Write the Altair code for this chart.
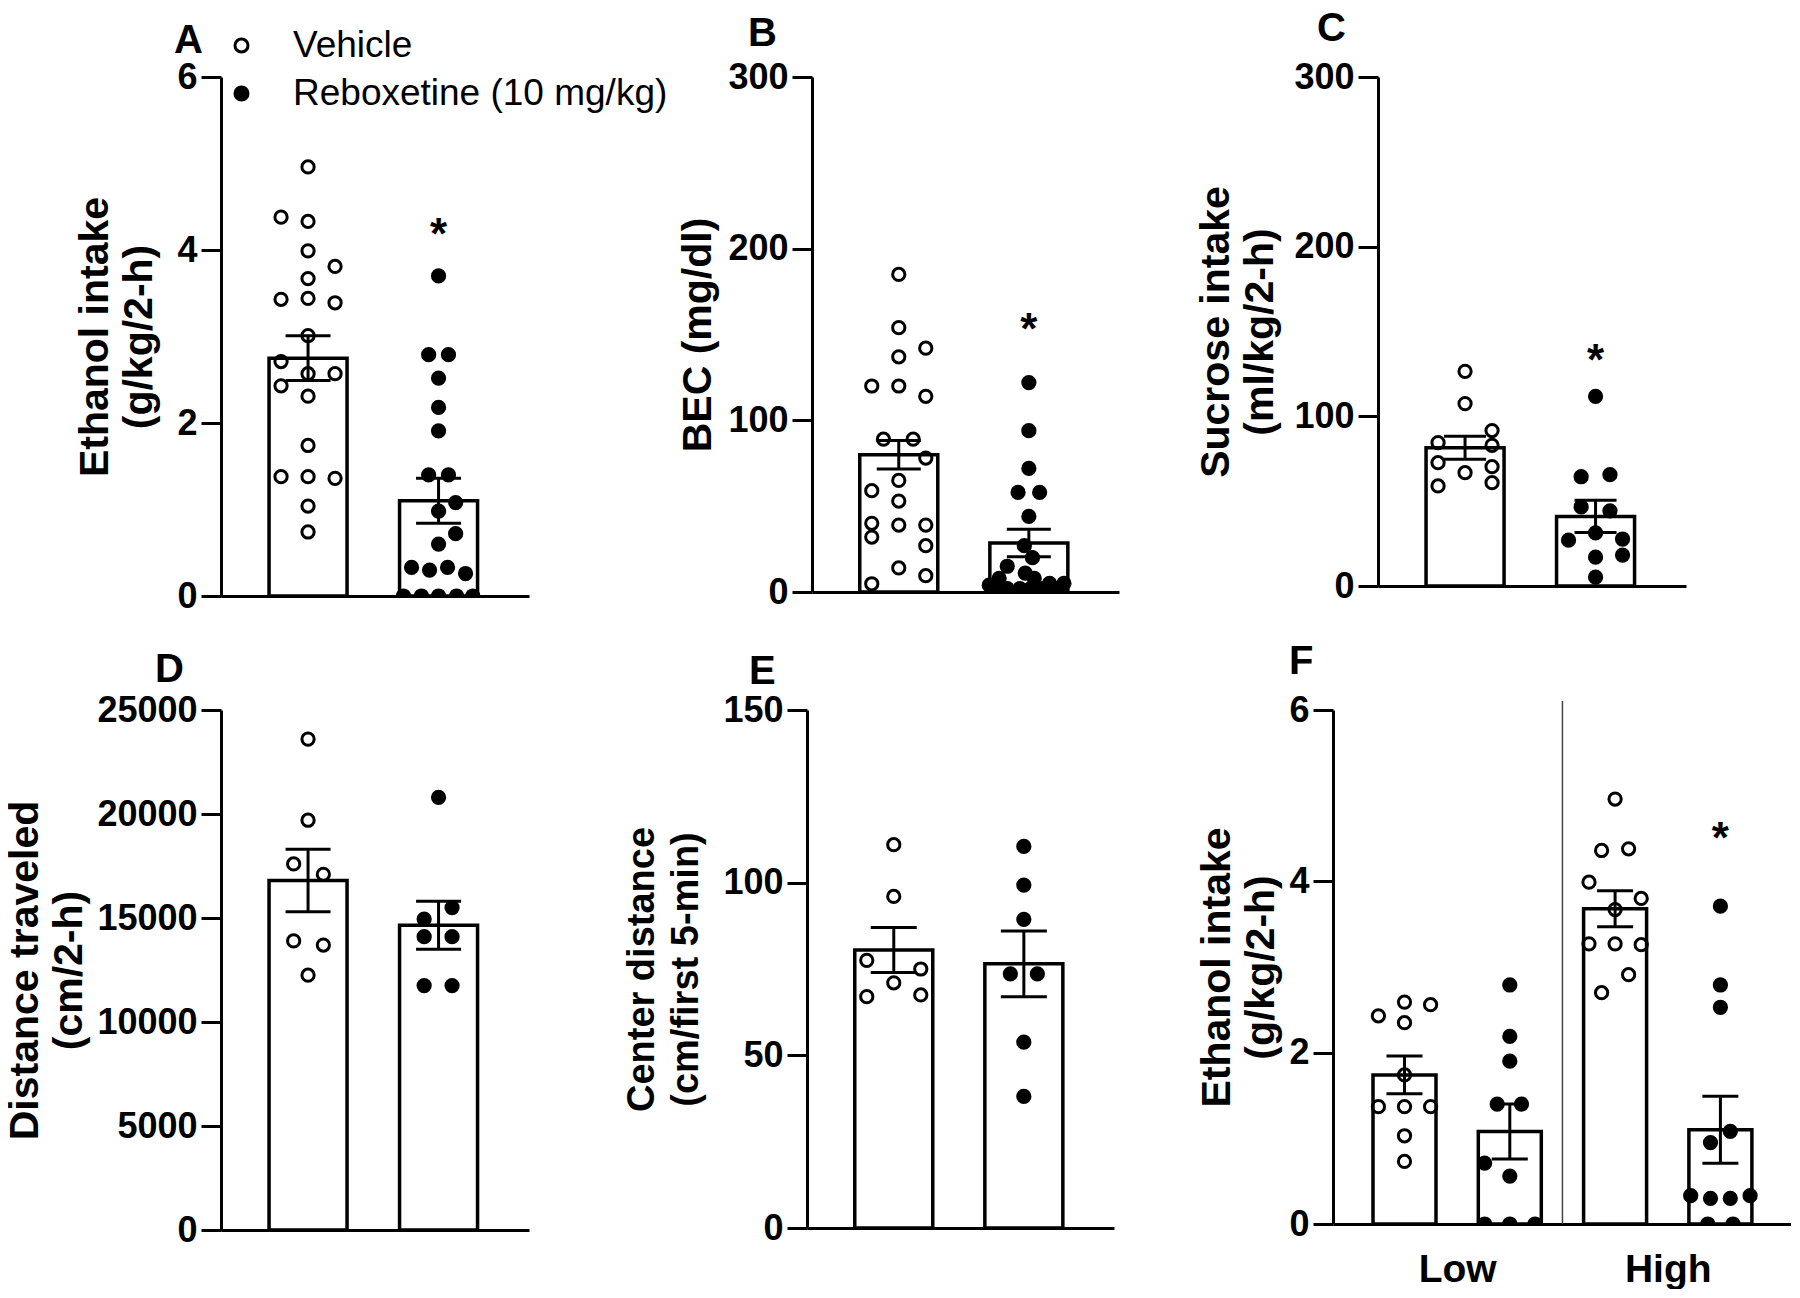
import altair as alt
import pandas as pd

FONT = "Liberation Sans"
GROUPS = ["Vehicle", "Reboxetine (10 mg/kg)"]
PANEL_LETTERS = ["A", "B", "C", "D", "E", "F"]
DOSE_LABELS = ["Low", "High"]
STAR = "*"

# ---------------- Panel A: ethanol intake ----------------
a_title = ["Ethanol intake", "(g/kg/2-h)"]
a_ticks = [0, 2, 4, 6]
a_veh = [4.96, 4.38, 4.33, 3.99, 3.81, 3.67, 3.43, 3.44, 3.39, 3.01, 2.71, 2.57, 2.57, 2.43, 2.31, 1.74, 1.38, 1.38, 1.36, 1.04, 0.74]
a_veh_slot = [0, -3, 0, 0, 3, 0, -3, 0, 3, 0, -3, 0, 3, -3, 0, 0, -3, 0, 3, 0, 0]
a_reb = [3.70, 2.79, 2.79, 2.52, 2.18, 1.91, 1.40, 1.40, 1.08, 0.98, 0.72, 0.60, 0.33, 0.30, 0.33, 0.26, 0, 0, 0, 0, 0]
a_reb_slot = [0, -1.1, 1.1, 0, 0, 0, -1.1, 1.1, 1.9, 0, 1.9, 0, -3, -1, 1, 3, -3.9, -1.9, 0, 2, 3.8]
a_mean = [2.75, 1.10]
a_sem = [0.26, 0.26]
a_star = [None, 4.2]

# ---------------- Panel B: BEC ----------------
b_title = "BEC (mg/dl)"
b_ticks = [0, 100, 200, 300]
b_veh = [185, 154, 137, 142, 120, 120, 114, 89, 89, 78, 59, 65, 53, 39, 40, 32, 39, 27, 14, 9.5, 4.8]
b_veh_slot = [0, 0, 0, 3, -3, 0, 3, -1.7, 1.6, 3, -3, 0, 0, 0, -3, -3, 3, 3, 0, 3, -3]
b_reb = [122, 94, 72, 58, 58, 44, 27, 20, 15, 11, 8, 8, 5, 5, 4, 3, 2, 2, 2, 2, 2]
b_reb_slot = [0, 0, 0, -1.2, 1.2, 0, -0.5, 0.4, -2.4, -0.4, -3.3, 0.6, 2.3, 3.9, -4.4, -3.2, -2.4, -1, 0.2, 1.5, 3]
b_mean = [80, 28.5]
b_sem = [8.3, 8]
b_star = [None, 154]

# ---------------- Panel C: sucrose intake ----------------
c_title = ["Sucrose intake", "(ml/kg/2-h)"]
c_ticks = [0, 100, 200, 300]
c_veh = [126.5, 107.5, 91.6, 84.5, 82.9, 72.7, 70.3, 66.8, 59, 60.9]
c_veh_slot = [0, 0, 3, -3, 3, -3, 3, 0, -3, 3]
c_reb = [111.8, 64.4, 65.6, 46.6, 44.3, 31.3, 27, 27.7, 17, 18.2, 5.2]
c_reb_slot = [0, -1.6, 1.6, -1.6, 1.6, 0, -3, 3, 0, 3, 0]
c_mean = [81.5, 41]
c_sem = [6.8, 9.5]
c_star = [None, 134]

# ---------------- Panel D: distance traveled ----------------
d_title = ["Distance traveled", "(cm/2-h)"]
d_ticks = [0, 5000, 10000, 15000, 20000, 25000]
d_veh = [23600, 19700, 17600, 17100, 13900, 13700, 12250]
d_veh_slot = [0, 0, -1.6, 1.7, -1.6, 1.7, 0]
d_reb = [20800, 15500, 14950, 14100, 14100, 11750, 11750]
d_reb_slot = [0, 1.5, -1.6, -1.6, 1.5, -1.6, 1.5]
d_mean = [16800, 14650]
d_sem = [1500, 1150]

# ---------------- Panel E: center distance ----------------
e_title = ["Center distance", "(cm/first 5-min)"]
e_ticks = [0, 50, 100, 150]
e_veh = [111, 96, 77.5, 75, 71, 67, 67.5]
e_veh_slot = [0, 0, -3, 3, 0, -3, 3]
e_reb = [110.5, 99.3, 89.4, 73.6, 73.6, 53.8, 38.1]
e_reb_slot = [0, 0, 0, -1.5, 1.5, 0, 0]
e_mean = [80.5, 76.5]
e_sem = [6.5, 9.5]

# ---------------- Panel F: ethanol intake, low vs high drinkers ----------------
f_title = ["Ethanol intake", "(g/kg/2-h)"]
f_ticks = [0, 2, 4, 6]
f_low_veh = [2.43, 2.59, 2.56, 2.35, 1.74, 1.37, 1.37, 1.37, 1.03, 0.73]
f_low_veh_slot = [-2.9, 0, 2.9, 0, 0, -2.9, 0, 2.9, 0, 0]
f_low_reb = [2.79, 2.19, 1.90, 1.40, 1.40, 0.71, 0.56, 0, 0, 0]
f_low_reb_slot = [0, 0, 0, -1.4, 1.3, -2.8, 0, -2.8, 0, 2.8]
f_high_veh = [4.96, 4.36, 4.38, 3.99, 3.80, 3.67, 3.27, 3.27, 3.26, 2.91, 2.70]
f_high_veh_slot = [0, -1.5, 1.5, -2.9, 2.9, 0, -2.9, 0, 2.9, 1.5, -1.5]
f_high_reb = [3.71, 2.79, 2.53, 1.08, 0.95, 0.33, 0.30, 0.30, 0.33, 0, 0]
f_high_reb_slot = [0, 0, 0, 1.1, -1.1, -3.3, -1.1, 1.1, 3.3, -1.4, 1.4]
f_mean = [1.74, 1.08, 3.68, 1.10]
f_sem = [0.22, 0.32, 0.21, 0.39]
f_star = [None, None, None, 4.52]
f_dose_centers = [0.5, 2.5]
f_separators = [1.5]

# layout guides (pixels): invisible frame lines that fix each row's bounds
GUIDE_X = -300
ROW1_GUIDE = (-80, 553)
ROW2_GUIDE = (-80, 520)


def make_panel(letter, ytitle, yvals, cols, means, sems, stars, *, width, height,
               xdom, bar_w, cap_w, letter_dx, letter_dy, title_size=41, title_pad=14,
               legend=False, dose_labels=None, separators=None, guide=None):
    ymax = yvals[-1]
    step = width / (xdom[1] - xdom[0])
    k = 9.0 / step  # one jitter slot = 9 px
    pts, bars, star_rows = [], [], []
    for i, (grp, vals, slots) in enumerate(cols):
        for v, s in zip(vals, slots):
            pts.append({"pos": i, "group": grp, "value": v, "xj": i + s * k})
        bars.append({"pos": i, "group": grp, "mean": means[i],
                     "lo": means[i] - sems[i], "hi": means[i] + sems[i]})
        if stars is not None and stars[i] is not None:
            star_rows.append({"pos": i, "value": stars[i], "label": STAR})
    pts_df = pd.DataFrame(pts)
    bar_df = pd.DataFrame(bars)

    xs = alt.Scale(domain=list(xdom), nice=False, zero=False, padding=0)
    ys = alt.Scale(domain=[0, ymax], nice=False, zero=True, padding=0)

    if dose_labels:
        xaxis = alt.Axis(values=f_dose_centers,
                         labelExpr=f"datum.value < 1.5 ? '{dose_labels[0]}' : '{dose_labels[1]}'",
                         ticks=False, labelFontSize=39, labelFontWeight="bold",
                         labelPadding=26, labelAngle=0, domainWidth=3, title=None,
                         grid=False, labelFlush=False)
    else:
        xaxis = alt.Axis(labels=False, ticks=False, domainWidth=3, title=None, grid=False)
    yaxis = alt.Axis(values=yvals, format="d", title=ytitle, titleFontSize=title_size,
                     titleFontWeight="bold", titleLineHeight=44, titlePadding=title_pad,
                     labelFontSize=36, labelFontWeight="bold", labelPadding=4,
                     tickSize=20, tickWidth=3, domainWidth=3, labelFlush=False,
                     labelOverlap=False, grid=False)

    def X(field):
        return alt.X(field, scale=xs, axis=xaxis)

    def Y(field):
        return alt.Y(field, scale=ys, axis=yaxis)

    bar_fill = alt.Chart(bar_df).mark_bar(size=bar_w, fill="white", strokeWidth=0).encode(
        x=X("pos:Q"), y=Y("mean:Q"))
    if legend:
        leg = alt.Legend(orient="none", legendX=2, legendY=-50, title=None,
                         labelFont=FONT, labelFontSize=37, labelColor="black",
                         labelOffset=33, labelLimit=700, symbolType="circle",
                         symbolSize=170, symbolStrokeColor="black", symbolStrokeWidth=3,
                         symbolOpacity=1, rowPadding=10, padding=0)
    else:
        leg = None
    points = alt.Chart(pts_df).mark_circle(size=150, stroke="black", strokeWidth=3,
                                           opacity=1, clip=True).encode(
        x=X("xj:Q"), y=Y("value:Q"),
        fill=alt.Fill("group:N", scale=alt.Scale(domain=GROUPS, range=["white", "black"]),
                      legend=leg),
    )
    bar_line = alt.Chart(bar_df).mark_bar(size=bar_w, fillOpacity=0, stroke="black",
                                          strokeWidth=3.5).encode(x=X("pos:Q"), y=Y("mean:Q"))
    err = alt.Chart(bar_df).mark_rule(color="black", strokeWidth=3).encode(
        x=X("pos:Q"), y=Y("lo:Q"), y2="hi:Q")
    cap_hi = alt.Chart(bar_df).mark_tick(orient="horizontal", size=cap_w, thickness=3,
                                         color="black", opacity=1).encode(
        x=X("pos:Q"), y=Y("hi:Q"))
    cap_lo = alt.Chart(bar_df).mark_tick(orient="horizontal", size=cap_w, thickness=3,
                                         color="black", opacity=1).encode(
        x=X("pos:Q"), y=Y("lo:Q"))
    letter_layer = alt.Chart(pd.DataFrame({"t": [letter]})).mark_text(
        align="left", baseline="middle", font=FONT, fontSize=40, fontWeight="bold",
        color="black").encode(x=alt.value(letter_dx), y=alt.value(letter_dy), text="t:N")

    layers = [bar_fill, points, bar_line, err, cap_hi, cap_lo, letter_layer]
    if star_rows:
        star_layer = alt.Chart(pd.DataFrame(star_rows)).mark_text(
            font=FONT, fontSize=44, fontWeight="bold", baseline="middle", dy=3,
            color="black").encode(x=X("pos:Q"), y=Y("value:Q"), text="label:N")
        layers.append(star_layer)
    if separators:
        sep = alt.Chart(pd.DataFrame({"pos": separators})).mark_rule(
            color="#444444", strokeWidth=1.5).encode(
            x=X("pos:Q"), y=alt.value(-9), y2=alt.value(height))
        layers.append(sep)
    if guide is not None:
        g = alt.Chart(pd.DataFrame({"v": [0]})).mark_rule(opacity=0, strokeOpacity=0).encode(
            x=alt.value(GUIDE_X), y=alt.value(guide[0]), y2=alt.value(guide[1]))
        layers.append(g)
    return alt.layer(*layers).properties(width=width, height=height)


def spacer(w):
    return alt.Chart(pd.DataFrame({"v": [0]})).mark_point(opacity=0).encode(
        x=alt.value(0), y=alt.value(0)).properties(width=w, height=1)


TWO = (-0.667, 1.693)
F_W = 458
F_DOM = (-0.679, -0.679 + F_W / 105.3)

A = make_panel(PANEL_LETTERS[0], a_title, a_ticks,
               [(GROUPS[0], a_veh, a_veh_slot), (GROUPS[1], a_reb, a_reb_slot)],
               a_mean, a_sem, a_star, width=308, height=519, xdom=TWO,
               bar_w=78, cap_w=45, letter_dx=-47, letter_dy=-36, legend=True, title_pad=16,
               guide=ROW1_GUIDE)
B = make_panel(PANEL_LETTERS[1], b_title, b_ticks,
               [(GROUPS[0], b_veh, b_veh_slot), (GROUPS[1], b_reb, b_reb_slot)],
               b_mean, b_sem, b_star, width=307, height=515, xdom=TWO,
               bar_w=78, cap_w=44, letter_dx=-64, letter_dy=-43, title_pad=8)
C = make_panel(PANEL_LETTERS[2], c_title, c_ticks,
               [(GROUPS[0], c_veh, c_veh_slot), (GROUPS[1], c_reb, c_reb_slot)],
               c_mean, c_sem, c_star, width=308, height=509, xdom=TWO,
               bar_w=78, cap_w=42, letter_dx=-61, letter_dy=-48, title_pad=12)
D = make_panel(PANEL_LETTERS[3], d_title, d_ticks,
               [(GROUPS[0], d_veh, d_veh_slot), (GROUPS[1], d_reb, d_reb_slot)],
               d_mean, d_sem, None, width=308, height=520, xdom=TWO,
               bar_w=78, cap_w=45, letter_dx=-66, letter_dy=-40, title_pad=6,
               guide=ROW2_GUIDE)
E = make_panel(PANEL_LETTERS[4], e_title, e_ticks,
               [(GROUPS[0], e_veh, e_veh_slot), (GROUPS[1], e_reb, e_reb_slot)],
               e_mean, e_sem, None, width=307, height=518, xdom=TWO,
               bar_w=78, cap_w=46, letter_dx=-58, letter_dy=-38, title_size=38,
               title_pad=17)
F = make_panel(PANEL_LETTERS[5], f_title, f_ticks,
               [(GROUPS[0], f_low_veh, f_low_veh_slot), (GROUPS[1], f_low_reb, f_low_reb_slot),
                (GROUPS[0], f_high_veh, f_high_veh_slot), (GROUPS[1], f_high_reb, f_high_reb_slot)],
               f_mean, f_sem, f_star, width=F_W, height=514, xdom=F_DOM,
               bar_w=63, cap_w=36, letter_dx=-44, letter_dy=-48, title_pad=6,
               dose_labels=DOSE_LABELS, separators=f_separators)


def row(*charts):
    return alt.hconcat(*charts, spacing=0, bounds="flush").resolve_scale(
        fill="independent").resolve_legend(fill="independent")


row1 = row(A, spacer(283), B, spacer(259), C)
row2 = row(D, spacer(278), E, spacer(219), F)

chart = alt.vconcat(row1, row2, spacing=0, bounds="full").resolve_scale(
    fill="independent").resolve_legend(fill="independent").properties(
    padding={"left": -87, "top": -11, "right": 0, "bottom": 0},
    background="white",
).configure_view(stroke=None).configure_axis(
    labelFont=FONT, titleFont=FONT, labelColor="black", titleColor="black",
    domainColor="black", tickColor="black", grid=False,
)

chart.save("out.html", embed_options={"renderer": "svg", "actions": False})
